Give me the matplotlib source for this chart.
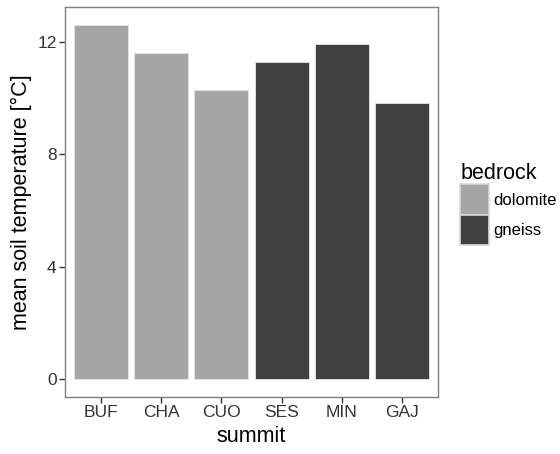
import matplotlib.pyplot as plt
from matplotlib.patches import Patch

summits = ['BUF', 'CHA', 'CUO', 'SES', 'MIN', 'GAJ']
temps = [12.6, 11.6, 10.28, 11.28, 11.93, 9.82]
bedrock = ['dolomite', 'dolomite', 'dolomite', 'gneiss', 'gneiss', 'gneiss']
rock_names = ['dolomite', 'gneiss']
rock_colors = {'dolomite': '#a6a6a6', 'gneiss': '#404040'}
y_ticks = [0, 4, 8, 12]

plt.rcParams['font.family'] = ['Liberation Sans', 'DejaVu Sans']

fig = plt.figure(figsize=(5.6, 4.54), dpi=100)
ax = fig.add_axes([65/560, 57/454, 373/560, 390/454])

x = range(len(summits))
ax.bar(x, temps, width=0.9, color=[rock_colors[b] for b in bedrock],
       edgecolor='#e6e6e6', linewidth=0.6)

# ggplot-style expansion
ax.set_xlim(-0.6, len(summits) - 0.4)
top = max(temps)
ax.set_ylim(-0.05 * top, top * 1.05)

ax.set_xticks(list(x))
ax.set_xticklabels(summits)
ax.set_yticks(y_ticks)
ax.tick_params(axis='both', length=4, width=1, color='#333333',
               labelsize=12.5, labelcolor='#333333', pad=2)

for s in ax.spines.values():
    s.set_color('#7f7f7f')
    s.set_linewidth(1)

ax.set_xlabel('summit', fontsize=15.5, labelpad=4)
ax.set_ylabel('mean soil temperature [°C]', fontsize=15.5, labelpad=4)

handles = [Patch(facecolor=rock_colors[r], edgecolor='#d9d9d9', linewidth=1.2)
           for r in rock_names]
leg = fig.legend(handles, rock_names, title='bedrock', loc='center left',
                 bbox_to_anchor=(452/560, 250/454), frameon=False,
                 fontsize=12, title_fontsize=15.5, handlelength=1.7,
                 handleheight=2.4, labelspacing=0.0, handletextpad=0.3,
                 borderpad=0, alignment='left')

fig.savefig('out.png', dpi=100)
